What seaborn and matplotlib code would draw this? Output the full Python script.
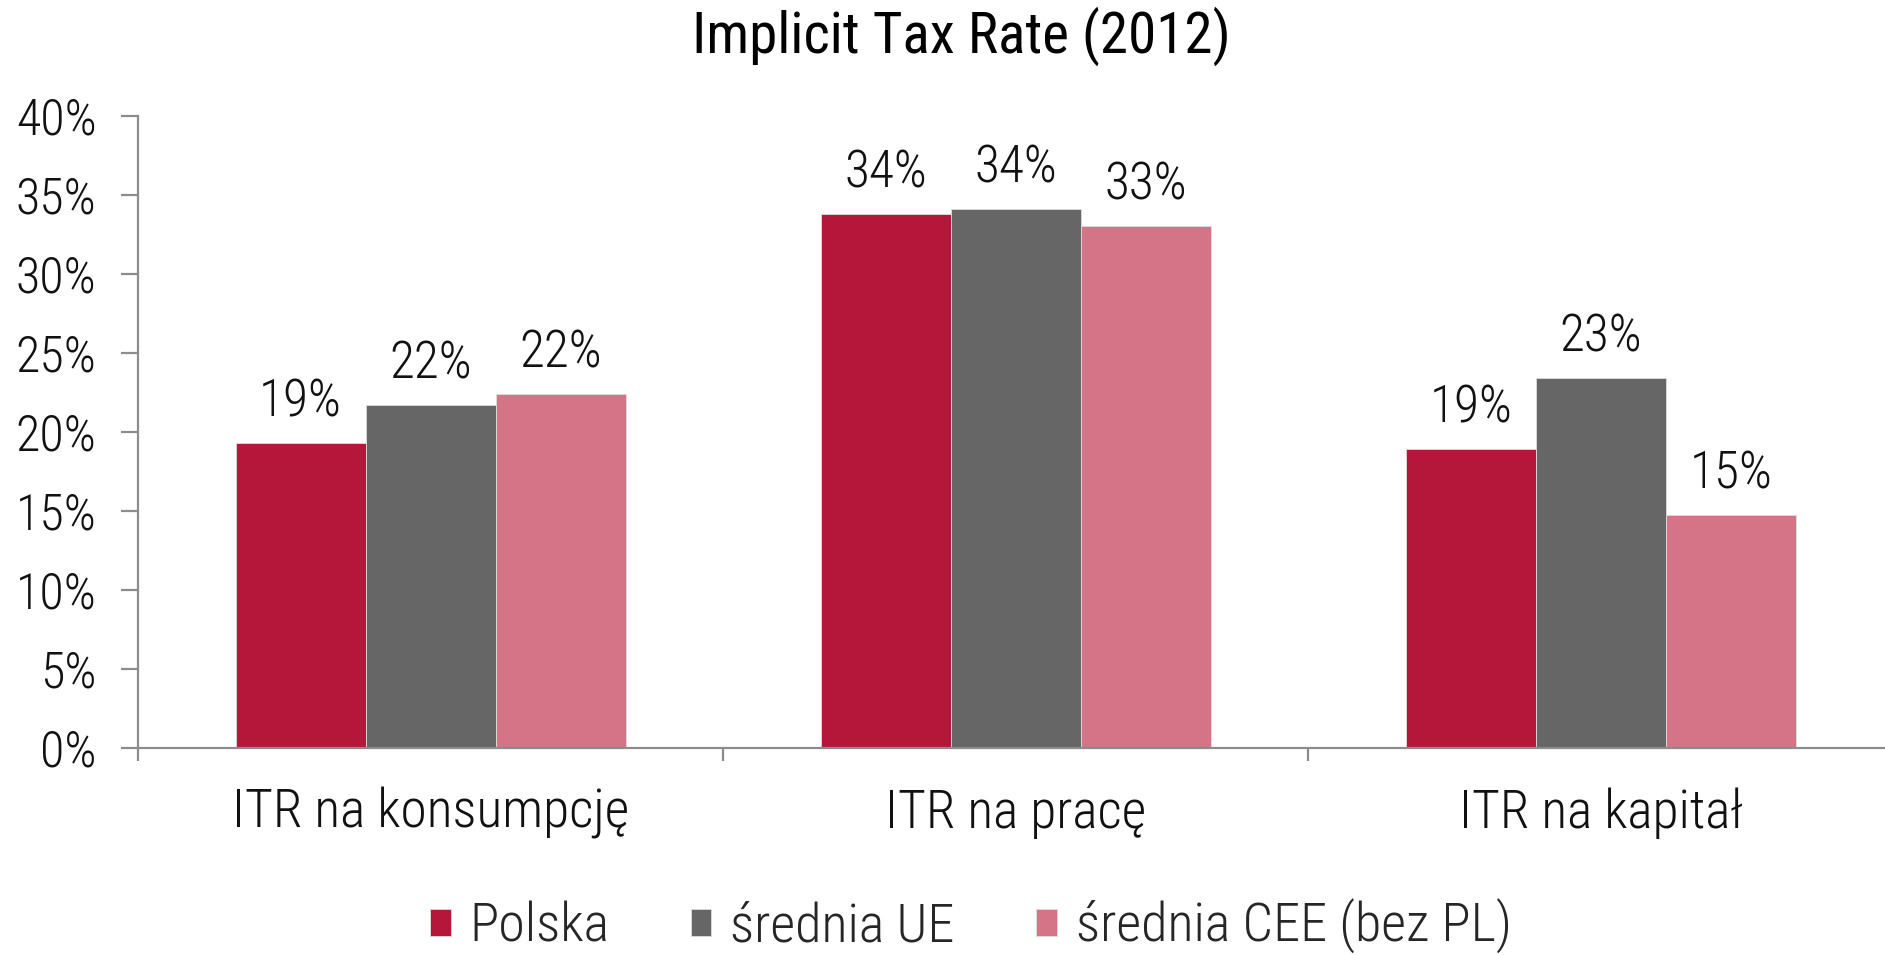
import matplotlib
matplotlib.use("Agg")
import matplotlib.pyplot as plt
import seaborn as sns
import pandas as pd
from matplotlib.ticker import FuncFormatter, FixedLocator

categories = ["ITR na konsumpcję", "ITR na pracę", "ITR na kapitał"]
series = ["Polska", "średnia UE", "średnia CEE (bez PL)"]
polska = [19.3, 33.8, 18.9]
srednia_ue = [21.7, 34.1, 23.4]
srednia_cee = [22.4, 33.0, 14.75]
colors = ["#B5173A", "#666666", "#D47486"]
yticks = [0, 5, 10, 15, 20, 25, 30, 35, 40]

rows = []
for s, vals in zip(series, [polska, srednia_ue, srednia_cee]):
    for c, v in zip(categories, vals):
        rows.append({"kategoria": c, "seria": s, "wartosc": v})
df = pd.DataFrame(rows)

sns.set_theme(style="white")
plt.rcParams["font.family"] = ["Roboto Condensed", "Roboto", "DejaVu Sans"]
plt.rcParams["font.weight"] = "light"

fig = plt.figure(figsize=(18.85, 9.55), dpi=100)
ax = fig.add_axes([0.0733, 0.2166, 0.9312, 0.6624])

sns.barplot(data=df, x="kategoria", y="wartosc", hue="seria", order=categories,
            hue_order=series, palette=colors, width=0.667, saturation=1,
            edgecolor="#dddddd", linewidth=0.6, ax=ax, legend=True)

for cont in ax.containers:
    ax.bar_label(cont, labels=[f"{b.get_height():.0f}%" for b in cont],
                 padding=11, fontsize=37, fontweight="light", color="#111111")

ax.set_ylim(0, 40)
ax.set_xlim(-0.5, 2.5)
ax.yaxis.set_major_locator(FixedLocator(yticks))
ax.yaxis.set_major_formatter(FuncFormatter(lambda v, p: f"{v:.0f}%"))
ax.set_xlabel("")
ax.set_ylabel("")

for side in ["top", "right"]:
    ax.spines[side].set_visible(False)
for side in ["left", "bottom"]:
    ax.spines[side].set_color("#8c8c8c")
    ax.spines[side].set_linewidth(1.6)

ax.tick_params(axis="y", which="major", direction="out", length=12, width=1.6,
               color="#8c8c8c", pad=18, labelsize=36, labelcolor="#111111", left=True)
ax.tick_params(axis="x", which="major", length=0, pad=28, labelsize=38.5,
               labelcolor="#111111")
ax.set_xticks([-0.5, 0.5, 1.5, 2.5], minor=True)
ax.tick_params(axis="x", which="minor", direction="out", length=9, width=1.6,
               color="#8c8c8c", bottom=True)

fig.suptitle("Implicit Tax Rate (2012)", x=0.51, y=0.993, va="top",
             fontsize=41, fontweight="normal", color="#000000")

handles, labels = ax.get_legend_handles_labels()
ax.get_legend().remove()
fig.legend(handles, labels, loc="center", bbox_to_anchor=(0.515, 0.03), ncol=3,
           frameon=False, fontsize=39, handlelength=0.38, handleheight=0.38,
           handletextpad=0.35, columnspacing=1.5)

fig.savefig("out.png", dpi=100)
